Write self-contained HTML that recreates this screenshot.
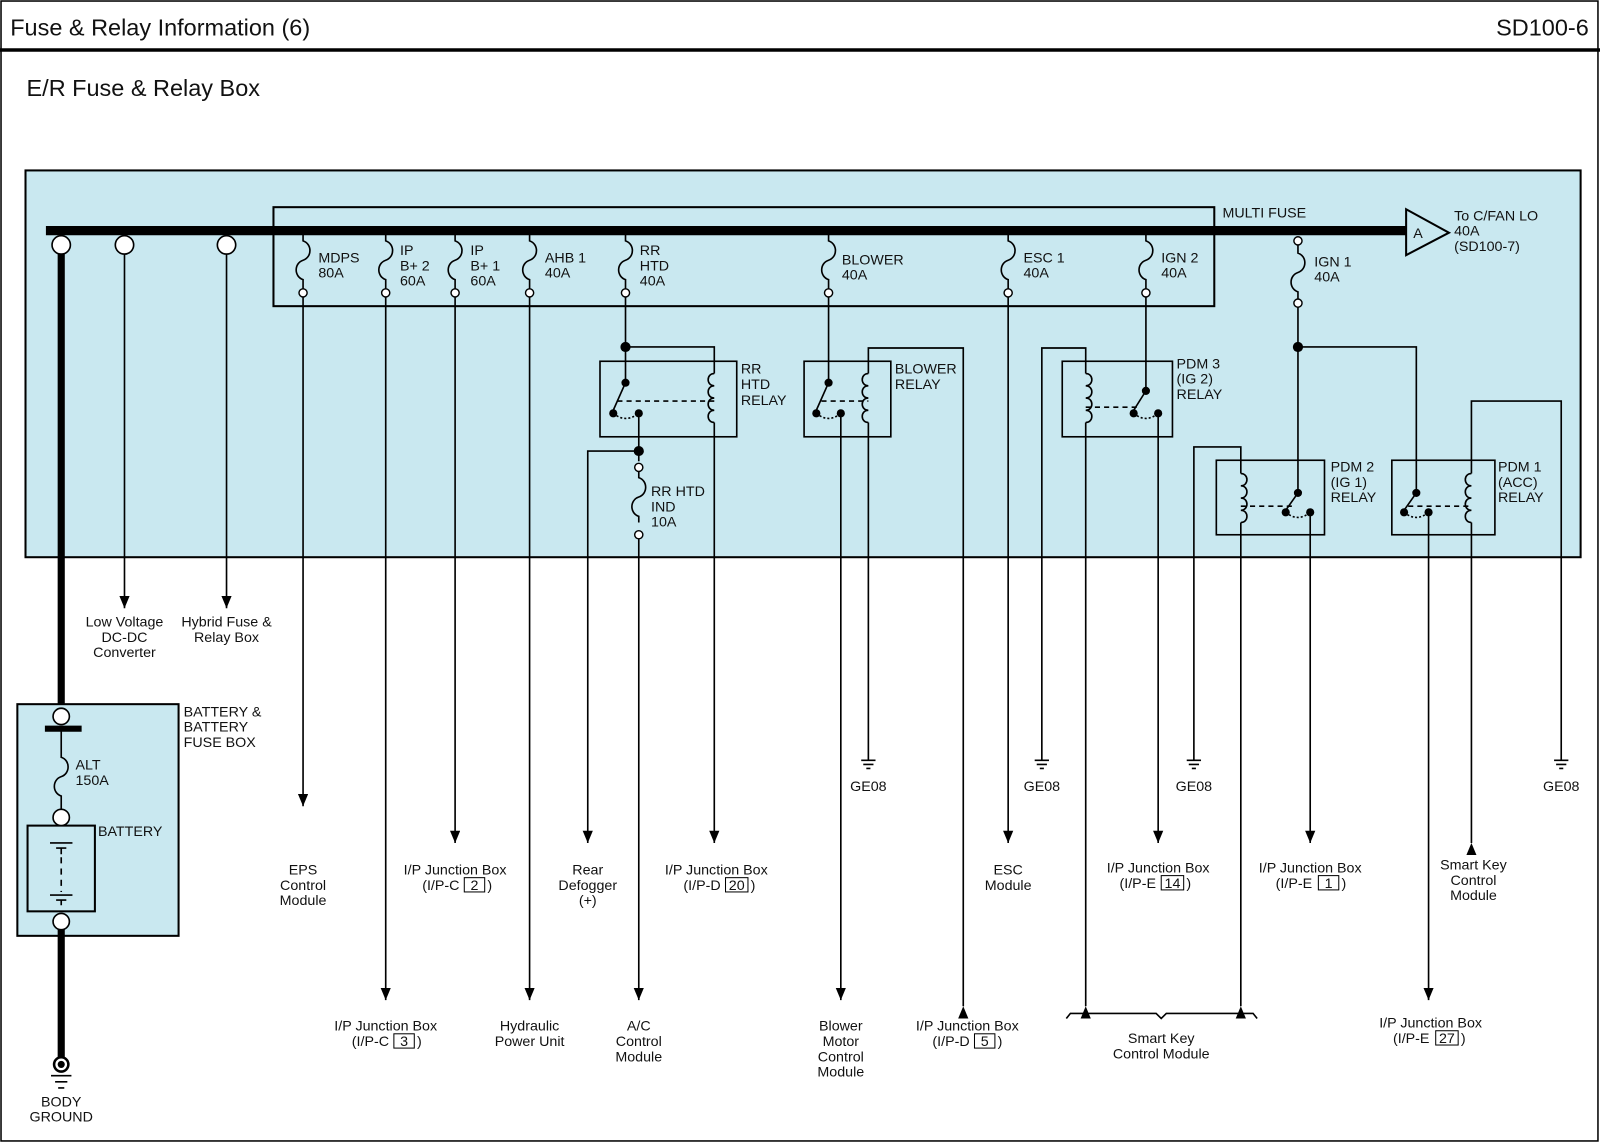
<!DOCTYPE html>
<html><head><meta charset="utf-8"><style>
html,body{margin:0;padding:0;background:#fff}
svg{display:block}
text{font-family:"Liberation Sans",sans-serif;font-size:14px;fill:#111}
.w{stroke:#000;stroke-width:1.6;fill:none}
</style></head><body>
<svg width="1600" height="1143" viewBox="0 0 1568 1120" preserveAspectRatio="none" xmlns="http://www.w3.org/2000/svg">
<defs>
<marker id="ad" viewBox="0 0 12 10" refX="12" refY="5" markerWidth="12" markerHeight="10" markerUnits="userSpaceOnUse" orient="auto"><path d="M0,0 L12,5 L0,10 Z" fill="#000"/></marker>
<marker id="au" viewBox="0 0 12 10" refX="0" refY="5" markerWidth="12" markerHeight="10" markerUnits="userSpaceOnUse" orient="auto"><path d="M12,0 L0,5 L12,10 Z" fill="#000"/></marker>
</defs>
<rect x="0" y="0" width="1568" height="1120" fill="#fff"/>
<rect x="1" y="1" width="1565" height="1117" fill="none" stroke="#000" stroke-width="1.5"/>
<text x="10" y="35" style="font-size:23px">Fuse &amp; Relay Information (6)</text>
<text x="1557" y="35" text-anchor="end" style="font-size:23px">SD100-6</text>
<line x1="0" y1="49" x2="1568" y2="49" stroke="#000" stroke-width="3.5"/>
<text x="26" y="94" style="font-size:23px">E/R Fuse &amp; Relay Box</text>

<rect x="25" y="167" width="1524" height="379" fill="#c9e8f0" stroke="#000" stroke-width="2"/>
<rect x="268" y="203" width="922" height="97" fill="none" stroke="#000" stroke-width="2"/>
<text x="1198" y="213">MULTI FUSE</text>
<line x1="45" y1="226" x2="1380" y2="226" stroke="#000" stroke-width="9"/>
<path d="M1378,205 L1420,228 L1378,250 Z" fill="#c9e8f0" stroke="#000" stroke-width="2"/>
<text x="1385" y="233">A</text>
<text x="1425" y="216">To C/FAN LO</text><text x="1425" y="231">40A</text><text x="1425" y="246">(SD100-7)</text>

<line x1="60" y1="240" x2="60" y2="702" stroke="#000" stroke-width="7"/>
<circle cx="60" cy="240" r="9" fill="#fff" stroke="#000" stroke-width="1.6"/>
<circle cx="122" cy="240" r="9" fill="#fff" stroke="#000" stroke-width="1.6"/>
<circle cx="222" cy="240" r="9" fill="#fff" stroke="#000" stroke-width="1.6"/>
<line class="w" x1="122" y1="249" x2="122" y2="596" marker-end="url(#ad)"/>
<line class="w" x1="222" y1="249" x2="222" y2="596" marker-end="url(#ad)"/>
<g text-anchor="middle"><text x="122" y="614">Low Voltage</text><text x="122" y="629">DC-DC</text><text x="122" y="644">Converter</text>
<text x="222" y="614">Hybrid Fuse &amp;</text><text x="222" y="629">Relay Box</text></g>

<g class="w">
<path d="M297,226 v10 c9,3 9,16 0,19 c-9,3 -9,16 0,19 v9"/>
<path d="M378,226 v10 c9,3 9,16 0,19 c-9,3 -9,16 0,19 v9"/>
<path d="M446,226 v10 c9,3 9,16 0,19 c-9,3 -9,16 0,19 v9"/>
<path d="M519,226 v10 c9,3 9,16 0,19 c-9,3 -9,16 0,19 v9"/>
<path d="M613,226 v10 c9,3 9,16 0,19 c-9,3 -9,16 0,19 v9"/>
<path d="M812,226 v10 c9,3 9,16 0,19 c-9,3 -9,16 0,19 v9"/>
<path d="M988,226 v10 c9,3 9,16 0,19 c-9,3 -9,16 0,19 v9"/>
<path d="M1123,226 v10 c9,3 9,16 0,19 c-9,3 -9,16 0,19 v9"/>
<path d="M1272,240 v8 c9,3 9,16 0,19 c-9,3 -9,16 0,19 v7"/>
</g>
<g fill="#fff" stroke="#000" stroke-width="1.4">
<circle cx="297" cy="287" r="4"/><circle cx="378" cy="287" r="4"/><circle cx="446" cy="287" r="4"/><circle cx="519" cy="287" r="4"/><circle cx="613" cy="287" r="4"/><circle cx="812" cy="287" r="4"/><circle cx="988" cy="287" r="4"/><circle cx="1123" cy="287" r="4"/>
<circle cx="1272" cy="236" r="4"/><circle cx="1272" cy="297" r="4"/>
</g>
<text x="312" y="257">MDPS</text><text x="312" y="272">80A</text>
<text x="392" y="250">IP</text><text x="392" y="265">B+ 2</text><text x="392" y="280">60A</text>
<text x="461" y="250">IP</text><text x="461" y="265">B+ 1</text><text x="461" y="280">60A</text>
<text x="534" y="257">AHB 1</text><text x="534" y="272">40A</text>
<text x="627" y="250">RR</text><text x="627" y="265">HTD</text><text x="627" y="280">40A</text>
<text x="825" y="259">BLOWER</text><text x="825" y="274">40A</text>
<text x="1003" y="257">ESC 1</text><text x="1003" y="272">40A</text>
<text x="1138" y="257">IGN 2</text><text x="1138" y="272">40A</text>
<text x="1288" y="261">IGN 1</text><text x="1288" y="276">40A</text>

<g class="w">
<line x1="297" y1="291" x2="297" y2="790" marker-end="url(#ad)"/>
<line x1="378" y1="291" x2="378" y2="980" marker-end="url(#ad)"/>
<line x1="446" y1="291" x2="446" y2="826" marker-end="url(#ad)"/>
<line x1="519" y1="291" x2="519" y2="980" marker-end="url(#ad)"/>
<line x1="988" y1="291" x2="988" y2="826" marker-end="url(#ad)"/>
</g>

<rect x="588" y="354" width="134" height="74" fill="none" stroke="#000" stroke-width="1.6"/>
<g class="w">
<path d="M613,291 V375"/><path d="M613,340 H700 V366"/>
<path d="M613,375 L601,402"/>
<path d="M700,366 c-8,0 -8,12 0,12 c-8,0 -8,12 0,12 c-8,0 -8,12 0,12 c-8,0 -8,12 0,12"/>
<path d="M700,414 V826" marker-end="url(#ad)"/>
<path d="M605,393 H700" stroke-dasharray="5,4"/>
<path d="M601,405 q12,10 25,0" stroke-dasharray="2,2"/>
<path d="M626,405 V452"/>
<path d="M626,442 H576 V826" marker-end="url(#ad)"/>
<path d="M626,462 v6 c9,3 9,16 0,19 c-9,3 -9,16 0,19 v6"/>
<path d="M626,528 V980" marker-end="url(#ad)"/>
</g>
<g fill="#000"><circle cx="613" cy="340" r="5"/><circle cx="613" cy="375" r="4"/><circle cx="601" cy="405" r="4"/><circle cx="626" cy="405" r="4"/><circle cx="626" cy="442" r="5"/></g>
<circle cx="626" cy="458" r="4" fill="#fff" stroke="#000" stroke-width="1.4"/>
<circle cx="626" cy="524" r="4" fill="#fff" stroke="#000" stroke-width="1.4"/>
<text x="726" y="366">RR</text><text x="726" y="381">HTD</text><text x="726" y="397">RELAY</text>
<text x="638" y="486">RR HTD</text><text x="638" y="501">IND</text><text x="638" y="516">10A</text>

<rect x="788" y="354" width="85" height="74" fill="none" stroke="#000" stroke-width="1.6"/>
<g class="w">
<path d="M812,291 V375"/><path d="M812,375 L800,402"/>
<path d="M851,366 V341 H944 V986" marker-end="url(#au)"/>
<path d="M851,366 c-8,0 -8,12 0,12 c-8,0 -8,12 0,12 c-8,0 -8,12 0,12 c-8,0 -8,12 0,12"/>
<path d="M851,414 V745"/>
<path d="M805,393 H851" stroke-dasharray="5,4"/>
<path d="M800,405 q12,10 24,0" stroke-dasharray="2,2"/>
<path d="M824,405 V980" marker-end="url(#ad)"/>
</g>
<g fill="#000"><circle cx="812" cy="375" r="4"/><circle cx="800" cy="405" r="4"/><circle cx="824" cy="405" r="4"/></g>
<text x="877" y="366">BLOWER</text><text x="877" y="381">RELAY</text>

<rect x="1041" y="354" width="108" height="74" fill="none" stroke="#000" stroke-width="1.6"/>
<g class="w">
<path d="M1123,291 V383"/><path d="M1123,383 L1111,402"/>
<path d="M1064,366 V341 H1021 V745"/>
<path d="M1064,366 c8,0 8,12 0,12 c8,0 8,12 0,12 c8,0 8,12 0,12 c8,0 8,12 0,12"/>
<path d="M1064,414 V986" marker-end="url(#au)"/>
<path d="M1064,399 H1115" stroke-dasharray="5,4"/>
<path d="M1111,405 q12,10 24,0" stroke-dasharray="2,2"/>
<path d="M1135,405 V826" marker-end="url(#ad)"/>
</g>
<g fill="#000"><circle cx="1123" cy="383" r="4"/><circle cx="1111" cy="405" r="4"/><circle cx="1135" cy="405" r="4"/></g>
<text x="1153" y="361">PDM 3</text><text x="1153" y="376">(IG 2)</text><text x="1153" y="391">RELAY</text>

<rect x="1192" y="451" width="106" height="73" fill="none" stroke="#000" stroke-width="1.6"/>
<rect x="1364" y="451" width="101" height="73" fill="none" stroke="#000" stroke-width="1.6"/>
<g class="w">
<path d="M1272,301 V483"/><path d="M1272,483 L1260,500"/>
<path d="M1272,340 H1388 V483"/><path d="M1388,483 L1376,500"/>
<path d="M1216,464 V438 H1170 V745"/>
<path d="M1216,464 c8,0 8,12 0,12 c8,0 8,12 0,12 c8,0 8,12 0,12 c8,0 8,12 0,12"/>
<path d="M1216,512 V986" marker-end="url(#au)"/>
<path d="M1216,496 H1266" stroke-dasharray="5,4"/>
<path d="M1260,502 q12,10 24,0" stroke-dasharray="2,2"/>
<path d="M1284,502 V826" marker-end="url(#ad)"/>
<path d="M1442,464 V393 H1530 V745"/>
<path d="M1442,464 c-8,0 -8,12 0,12 c-8,0 -8,12 0,12 c-8,0 -8,12 0,12 c-8,0 -8,12 0,12"/>
<path d="M1442,512 V826" marker-end="url(#au)"/>
<path d="M1380,496 H1442" stroke-dasharray="5,4"/>
<path d="M1376,502 q12,10 24,0" stroke-dasharray="2,2"/>
<path d="M1400,502 V980" marker-end="url(#ad)"/>
</g>
<g fill="#000"><circle cx="1272" cy="340" r="5"/><circle cx="1272" cy="483" r="4"/><circle cx="1260" cy="502" r="4"/><circle cx="1284" cy="502" r="4"/>
<circle cx="1388" cy="483" r="4"/><circle cx="1376" cy="502" r="4"/><circle cx="1400" cy="502" r="4"/></g>
<text x="1304" y="462">PDM 2</text><text x="1304" y="477">(IG 1)</text><text x="1304" y="492">RELAY</text>
<text x="1468" y="462">PDM 1</text><text x="1468" y="477">(ACC)</text><text x="1468" y="492">RELAY</text>

<g class="w">
<path d="M844,745 h14 M846,749 h10 M849,753 h4"/>
<path d="M1014,745 h14 M1016,749 h10 M1019,753 h4"/>
<path d="M1163,745 h14 M1165,749 h10 M1168,753 h4"/>
<path d="M1523,745 h14 M1525,749 h10 M1528,753 h4"/>
</g>
<g text-anchor="middle">
<text x="851" y="775">GE08</text><text x="1021" y="775">GE08</text><text x="1170" y="775">GE08</text><text x="1530" y="775">GE08</text>
<text x="297" y="857">EPS</text><text x="297" y="872">Control</text><text x="297" y="887">Module</text>
<text x="446" y="857">I/P Junction Box</text>
<text x="576" y="857">Rear</text><text x="576" y="872">Defogger</text><text x="576" y="887">(+)</text>
<text x="702" y="857">I/P Junction Box</text>
<text x="988" y="857">ESC</text><text x="988" y="872">Module</text>
<text x="1135" y="855">I/P Junction Box</text>
<text x="1284" y="855">I/P Junction Box</text>
<text x="1444" y="852">Smart Key</text><text x="1444" y="867">Control</text><text x="1444" y="882">Module</text>
<text x="378" y="1010">I/P Junction Box</text>
<text x="519" y="1010">Hydraulic</text><text x="519" y="1025">Power Unit</text>
<text x="626" y="1010">A/C</text><text x="626" y="1025">Control</text><text x="626" y="1040">Module</text>
<text x="824" y="1010">Blower</text><text x="824" y="1025">Motor</text><text x="824" y="1040">Control</text><text x="824" y="1055">Module</text>
<text x="948" y="1010">I/P Junction Box</text>
<text x="1138" y="1022">Smart Key</text><text x="1138" y="1037">Control Module</text>
<text x="1402" y="1007">I/P Junction Box</text>
</g>
<g text-anchor="middle">
<text x="432" y="872">(I/P-C</text><rect x="455" y="860" width="20" height="14" fill="none" stroke="#000"/><text x="465" y="872">2</text><text x="480" y="872">)</text>
<text x="688" y="872">(I/P-D</text><rect x="711" y="860" width="22" height="14" fill="none" stroke="#000"/><text x="722" y="872">20</text><text x="738" y="872">)</text>
<text x="1115" y="870">(I/P-E</text><rect x="1138" y="858" width="22" height="14" fill="none" stroke="#000"/><text x="1149" y="870">14</text><text x="1165" y="870">)</text>
<text x="1268" y="870">(I/P-E</text><rect x="1292" y="858" width="20" height="14" fill="none" stroke="#000"/><text x="1302" y="870">1</text><text x="1317" y="870">)</text>
<text x="363" y="1025">(I/P-C</text><rect x="386" y="1013" width="20" height="14" fill="none" stroke="#000"/><text x="396" y="1025">3</text><text x="411" y="1025">)</text>
<text x="932" y="1025">(I/P-D</text><rect x="955" y="1013" width="20" height="14" fill="none" stroke="#000"/><text x="965" y="1025">5</text><text x="980" y="1025">)</text>
<text x="1383" y="1022">(I/P-E</text><rect x="1407" y="1010" width="22" height="14" fill="none" stroke="#000"/><text x="1418" y="1022">27</text><text x="1434" y="1022">)</text>
</g>
<path class="w" d="M1045,998 l4,-5 H1133 l5,5 l5,-5 H1228 l4,5"/>

<rect x="17" y="690" width="158" height="227" fill="#c9e8f0" stroke="#000" stroke-width="2"/>
<line x1="44" y1="714" x2="80" y2="714" stroke="#000" stroke-width="6"/>
<g class="w">
<path d="M60,714 v28 c9,3 9,16 0,19 c-9,3 -9,16 0,19 v14"/>
<path d="M49,826 h22 M55,831 h10 M60,831 v6 M49,877 h22 M55,882 h10 M60,882 v5"/>
<path d="M60,840 v34" stroke-dasharray="6,5"/>
</g>
<rect x="27" y="809" width="66" height="84" fill="none" stroke="#000" stroke-width="2"/>
<line x1="60" y1="903" x2="60" y2="1036" stroke="#000" stroke-width="7"/>
<circle cx="60" cy="702" r="8" fill="#fff" stroke="#000" stroke-width="1.6"/>
<circle cx="60" cy="801" r="8" fill="#fff" stroke="#000" stroke-width="1.6"/>
<circle cx="60" cy="903" r="8" fill="#fff" stroke="#000" stroke-width="1.6"/>
<circle cx="60" cy="1043" r="7" fill="#fff" stroke="#000" stroke-width="2.5"/>
<circle cx="60" cy="1043" r="3.5" fill="#000"/>
<g class="w" stroke-width="2.5"><path d="M50,1054 h20 M54,1060 h12 M57,1066 h6"/></g>
<text x="180" y="702">BATTERY &amp;</text><text x="180" y="717">BATTERY</text><text x="180" y="732">FUSE BOX</text>
<text x="74" y="754">ALT</text><text x="74" y="769">150A</text>
<text x="96" y="819">BATTERY</text>
<g text-anchor="middle"><text x="60" y="1084">BODY</text><text x="60" y="1099">GROUND</text></g>
</svg>
</body></html>
